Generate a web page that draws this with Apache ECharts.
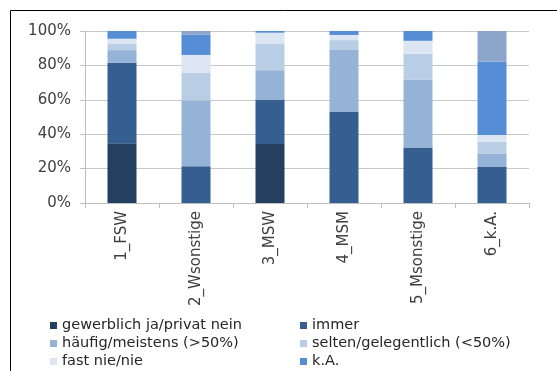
<!DOCTYPE html>
<html>
<head>
<meta charset="utf-8">
<script src="https://cdn.jsdelivr.net/npm/echarts@6/dist/echarts.min.js"></script>
<style>
    html, body {margin: 0; padding: 0; background: #fff;}
    #chart {width: 557px; height: 371px;}
</style>
</head>
<body>
<div id="chart"></div>
<script>
var categories = ['1_FSW', '2_Wsonstige', '3_MSW', '4_MSM', '5_Msonstige', '6_k.A.'];
var yTicks = [0, 20, 40, 60, 80, 100];

// Anteile in % je Kategorie
var gewerblich = [34.7, 0, 34.3, 0, 0, 0];
var immer = [46.8, 21.4, 25.9, 53.2, 32.2, 21.2];
var haeufig = [7.4, 38.2, 17.0, 35.7, 39.6, 7.6];
var selten = [3.9, 16.0, 15.6, 5.8, 14.9, 6.9];
var fastNie = [2.7, 10.5, 6.2, 3.0, 7.6, 3.9];
var kA = [4.5, 11.7, 1.0, 2.3, 5.7, 42.7];
var rest = [0, 2.2, 0, 0, 0, 17.7];

var names = ['gewerblich ja/privat nein', 'immer', 'häufig/meistens (>50%)',
    'selten/gelegentlich (<50%)', 'fast nie/nie', 'k.A.', 'sonstige'];
var colors = ['#243f60', '#365f91', '#95b3d7', '#b9cde5', '#dce6f2', '#558ed5', '#8ea5cb'];
var values = [gewerblich, immer, haeufig, selten, fastNie, kA, rest];

var chart = echarts.init(document.getElementById('chart'));

var series = [];
for (var i = 0; i < values.length; i++) {
    series.push({
        name: names[i],
        type: 'bar',
        stack: 'total',
        barWidth: 29,
        itemStyle: {color: colors[i]},
        data: values[i]
    });
}

// Legende: zwei Spalten, drei Zeilen (ohne "sonstige")
var legends = [];
for (var j = 0; j < 6; j++) {
    legends.push({
        left: j % 2 == 0 ? 50 : 300,
        top: 317 + Math.floor(j / 2) * 18,
        padding: 0,
        itemWidth: 7,
        itemHeight: 7,
        icon: 'rect',
        selectedMode: false,
        textStyle: {fontFamily: 'DejaVu Sans', fontSize: 14.5, color: '#262626', lineHeight: 17},
        data: [names[j]]
    });
}

var option = {
    animation: false,
    textStyle: {fontFamily: 'DejaVu Sans'},
    graphic: [{
        type: 'rect',
        shape: {x: 10.5, y: 10.5, width: 700, height: 500},
        style: {fill: 'none', stroke: '#000', lineWidth: 1}
    }],
    grid: {left: 85, right: 28, top: 31, bottom: 168},
    legend: legends,
    xAxis: {
        type: 'category',
        data: categories,
        axisLine: {lineStyle: {color: '#bfbfbf'}},
        axisTick: {show: true, length: 5, lineStyle: {color: '#bfbfbf'}},
        axisLabel: {rotate: 90, margin: 8, fontSize: 15, color: '#404040', fontFamily: 'DejaVu Sans'}
    },
    yAxis: {
        type: 'value',
        min: yTicks[0],
        max: yTicks[yTicks.length - 1],
        interval: 20,
        axisLine: {show: true, lineStyle: {color: '#bfbfbf'}},
        axisTick: {show: true, length: 5, lineStyle: {color: '#bfbfbf'}},
        splitLine: {lineStyle: {color: '#c8c8c8'}},
        axisLabel: {margin: 14, fontSize: 15, color: '#404040', fontFamily: 'DejaVu Sans', formatter: '{value}%'}
    },
    series: series
};
chart.setOption(option);
</script>
</body>
</html>
